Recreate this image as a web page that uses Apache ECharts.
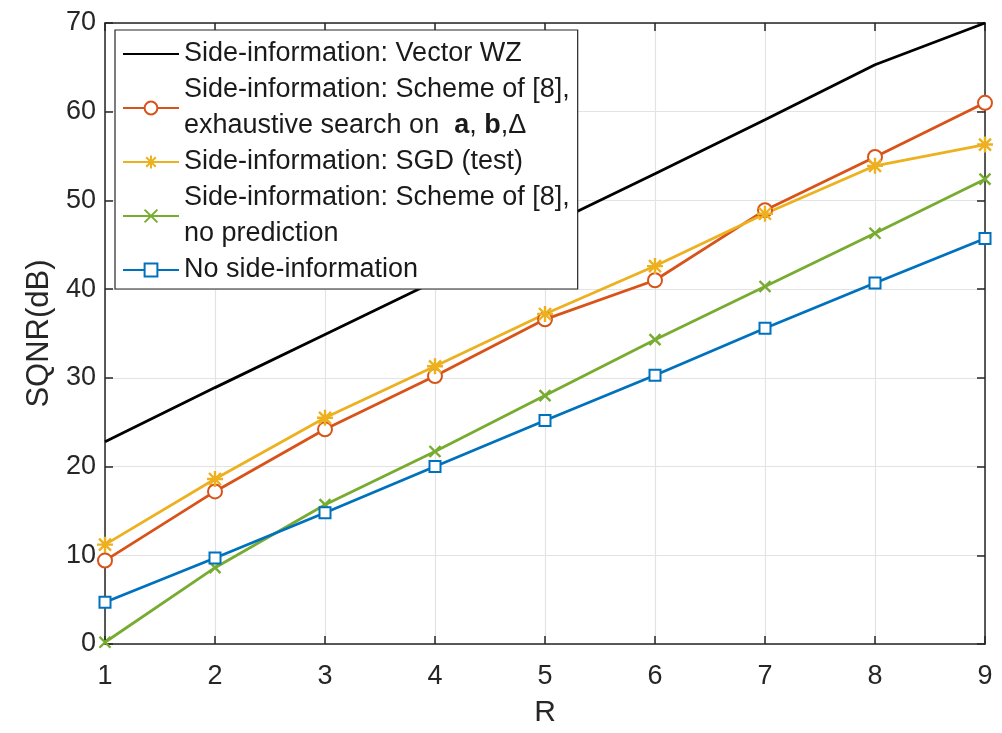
<!DOCTYPE html>
<html><head><meta charset="utf-8">
<script src="https://cdn.jsdelivr.net/npm/echarts@6/dist/echarts.min.js"></script>
<style>html,body{margin:0;padding:0;background:#fff}#c{width:1002px;height:733px}</style>
</head><body><div id="c"></div>
<script>
const R = [1, 2, 3, 4, 5, 6, 7, 8, 9];
const yTicks = [0, 10, 20, 30, 40, 50, 60, 70];
const vectorWZ = [22.8, 28.9, 34.9, 40.9, 47.0, 53.0, 59.1, 65.3, 70.0];
const exhaustive = [9.4, 17.2, 24.2, 30.2, 36.6, 41.0, 48.9, 54.9, 61.0];
const sgd = [11.2, 18.6, 25.5, 31.3, 37.2, 42.6, 48.5, 53.9, 56.3];
const noPred = [0.2, 8.6, 15.7, 21.7, 28.0, 34.3, 40.3, 46.3, 52.4];
const noSide = [4.7, 9.7, 14.8, 20.0, 25.2, 30.3, 35.6, 40.7, 45.7];
const names = [
  'Side-information: Vector WZ',
  'Side-information: Scheme of [8], exhaustive',
  'Side-information: SGD (test)',
  'Side-information: Scheme of [8], no prediction',
  'No side-information'
];
const labels = {};
labels[names[0]] = 'Side-information: Vector WZ';
labels[names[1]] = 'Side-information: Scheme of [8],\nexhaustive search on  {b|a}, {b|b},Δ';
labels[names[2]] = 'Side-information: SGD (test)';
labels[names[3]] = 'Side-information: Scheme of [8],\nno prediction';
labels[names[4]] = 'No side-information';

const FONT = '"Liberation Sans", Arial, Helvetica, sans-serif';
const TXT = '#262626';
const asterisk = 'path://M0,-10L0,10M-10,0L10,0M-7.5,-7.5L7.5,7.5M-7.5,7.5L7.5,-7.5';
const cross = 'path://M-10,-10L10,10M-10,10L10,-10';

function pairs(arr){ return R.map((r,i)=>[r, arr[i]]); }

function mk(name, data, color, symbol, size, bw, show){
  return {
    name, type: 'line', data: pairs(data), xAxisIndex: 0, yAxisIndex: 0,
    lineStyle: {color, width: 2.8},
    itemStyle: {color, borderColor: color, borderWidth: bw},
    symbol, symbolSize: size, showSymbol: show,
    emphasis: {disabled: true}, animation: false, z: 3
  };
}

const axisLineStyle = {color: TXT, width: 1.5};
const chart = echarts.init(document.getElementById('c'), null, {renderer: 'canvas'});
chart.setOption({
  animation: false,
  backgroundColor: '#fff',
  grid: {left: 105, right: 17, top: 23, bottom: 87, containLabel: false},
  xAxis: [{
    type: 'value', min: 1, max: 9, interval: 1, position: 'bottom',
    name: 'R', nameLocation: 'middle', nameGap: 54,
    nameTextStyle: {fontFamily: FONT, fontSize: 30, color: TXT},
    axisLine: {show: true, lineStyle: axisLineStyle},
    axisTick: {show: true, inside: true, length: 8, lineStyle: axisLineStyle},
    axisLabel: {fontFamily: FONT, fontSize: 27, color: TXT, margin: 19},
    splitLine: {show: true, lineStyle: {color: '#e3e3e3', width: 1.2}}
  }, {
    type: 'value', min: 1, max: 9, interval: 1, position: 'top',
    axisLine: {show: true, onZero: false, lineStyle: axisLineStyle},
    axisTick: {show: true, inside: true, length: 8, lineStyle: axisLineStyle},
    axisLabel: {show: false}, splitLine: {show: false}
  }],
  yAxis: [{
    type: 'value', min: 0, max: 70, interval: 10, position: 'left',
    name: 'SQNR(dB)', nameLocation: 'middle', nameGap: 49, nameRotate: 90,
    nameTextStyle: {fontFamily: FONT, fontSize: 31, color: TXT},
    axisLine: {show: true, lineStyle: axisLineStyle},
    axisTick: {show: true, inside: true, length: 8, lineStyle: axisLineStyle},
    axisLabel: {fontFamily: FONT, fontSize: 27, color: TXT, margin: 9,
      formatter: v => yTicks.includes(v) ? String(v) : ''},
    splitLine: {show: true, lineStyle: {color: '#e3e3e3', width: 1.2}}
  }, {
    type: 'value', min: 0, max: 70, interval: 10, position: 'right',
    axisLine: {show: true, onZero: false, lineStyle: axisLineStyle},
    axisTick: {show: true, inside: true, length: 8, lineStyle: axisLineStyle},
    axisLabel: {show: false}, splitLine: {show: false}
  }],
  legend: {
    show: true, left: 115, top: 30, orient: 'vertical',
    backgroundColor: '#fff', borderColor: TXT, borderWidth: 1.2,
    padding: [6, 8, 1, 7], itemGap: 0, itemWidth: 56, itemHeight: 16,
    data: [
      {name: names[0], itemStyle: {opacity: 0}},
      names[1], names[2], names[3], names[4]
    ],
    formatter: n => labels[n],
    textStyle: {fontFamily: FONT, fontSize: 27, color: '#1a1a1a', lineHeight: 36,
      rich: {b: {fontFamily: FONT, fontSize: 27, fontWeight: 'bold', color: '#1a1a1a', lineHeight: 36}}},
    selectedMode: false
  },
  series: [
    mk(names[0], vectorWZ, '#000000', 'circle', 6, 0, false),
    mk(names[1], exhaustive, '#D95319', 'emptyCircle', 14, 2.2, true),
    mk(names[2], sgd, '#EDB120', asterisk, 16, 2.4, true),
    mk(names[3], noPred, '#77AC30', cross, 11, 2.4, true),
    mk(names[4], noSide, '#0072BD', 'emptyRect', 11, 2.6, true)
  ]
});
</script></body></html>
